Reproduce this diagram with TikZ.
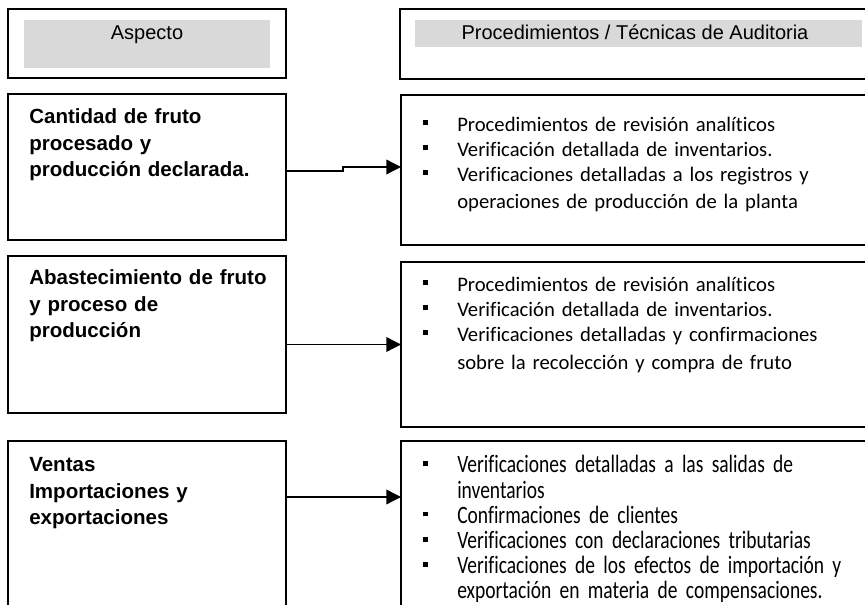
\documentclass[tikz,border=0pt]{standalone}
\usepackage{fontspec}
\usepackage{tikz}
\usetikzlibrary{arrows.meta,positioning}

\setmainfont{Liberation Sans}
\newfontfamily\calibri[Ligatures=NoCommon]{Carlito}
\newfontfamily\calibrinarrow[Ligatures=NoCommon,FakeStretch=0.78]{Carlito}
\definecolor{headgray}{HTML}{D9D9D9}

\def\px{0.75pt}
\newcommand{\sqbullet}{\makebox[27pt][l]{\hspace*{1.5pt}\rule[5.2pt]{3.5pt}{3.5pt}}}
\newcommand{\sqgap}{\hspace*{27pt}}

\begin{document}
\begin{tikzpicture}[x=0.75pt,y=-0.75pt,
        boxsize/.style 2 args={minimum width=#1*\px, minimum height=#2*\px},
        box/.style={draw, line width=1.25pt, inner sep=0pt, outer sep=0pt, anchor=north west},
        shade/.style={fill=headgray, draw=none, inner sep=0pt, outer sep=0pt, anchor=north west},
        head/.style={font=\fontsize{15pt}{18pt}\selectfont, inner sep=0pt, anchor=base},
        aspect/.style={font=\bfseries\fontsize{15.4pt}{19.8pt}\selectfont, text width=190pt, align=left, inner sep=0pt, anchor=base west},
        proc/.style={font=\calibri\fontsize{15.5pt}{18.75pt}\selectfont, text width=330pt, align=left, inner sep=0pt, anchor=base west},
        link/.style={line width=1pt, -{Triangle[length=11pt,width=11pt]}}]

        \useasboundingbox (0,0) rectangle (865,605);

        % headers
        \node[box, boxsize={278}{69}] (hdrA) at (8,9) {};
        \node[shade, boxsize={246}{48}] (hdrAfill) at (24,20) {};
        \node[head] (hdrAtext) at (147,40) {Aspecto};

        \node[box, boxsize={470}{70}] (hdrP) at (400,9) {};
        \node[shade, boxsize={447}{27}] (hdrPfill) at (415,20) {};
        \node[head] (hdrPtext) at (635,40) {Procedimientos / Técnicas de Auditoria};

        % aspects
        \node[box, boxsize={278}{146}] (asp1) at (8,94) {};
        \node[aspect] (asp1text) at ([shift={(21,30)}]asp1.north west)
            {Cantidad de fruto\\ procesado y\\ producción declarada.};

        \node[box, boxsize={278}{157}] (asp2) at (8,256) {};
        \node[aspect] (asp2text) at ([shift={(21,29)}]asp2.north west)
            {Abastecimiento de fruto\\ y proceso de\\ producción};

        \node[box, boxsize={278}{180}] (asp3) at (8,441) {};
        \node[aspect] (asp3text) at ([shift={(21,31)}]asp3.north west)
            {Ventas\\ Importaciones y\\ exportaciones};

        % procedures
        \node[box, boxsize={470}{150}] (proc1) at (401,95) {};
        \node[proc] (proc1text) at ([shift={(20,37)}]proc1.north west)
            {\sqbullet Procedimientos de revisión analíticos\\
             \sqbullet Verificación detallada de inventarios.\\
             \sqbullet Verificaciones detalladas a los registros y\\[1.5pt]
             \sqgap operaciones de producción de la planta};

        \node[box, boxsize={470}{165}] (proc2) at (401,262) {};
        \node[proc] (proc2text) at ([shift={(20,30)}]proc2.north west)
            {\sqbullet Procedimientos de revisión analíticos\\
             \sqbullet Verificación detallada de inventarios.\\
             \sqbullet Verificaciones detalladas y confirmaciones\\[2.25pt]
             \sqgap sobre la recolección y compra de fruto};

        \node[box, boxsize={470}{180}] (proc3) at (401,441) {};
        \node[proc, font=\calibrinarrow\fontsize{18.75pt}{18.9pt}\selectfont] (proc3text)
            at ([shift={(20,32)}]proc3.north west)
            {\sqbullet Verificaciones detalladas a las salidas de\\
             \sqgap inventarios\\
             \sqbullet Confirmaciones de clientes\\
             \sqbullet Verificaciones con declaraciones tributarias\\
             \sqbullet Verificaciones de los efectos de importación y\\
             \sqgap exportación en materia de compensaciones.};

        % arrows
        \draw[link] ([yshift=-3pt]asp1.east) -- ++(57,0) |- ([yshift=2.25pt]proc1.west);
        \draw[link] (asp2.east |- proc2.west) -- (proc2.west);
        \draw[link] ([yshift=-42pt]asp3.north east) -- ([yshift=-42pt]proc3.north west);
    \end{tikzpicture}
\end{document}
